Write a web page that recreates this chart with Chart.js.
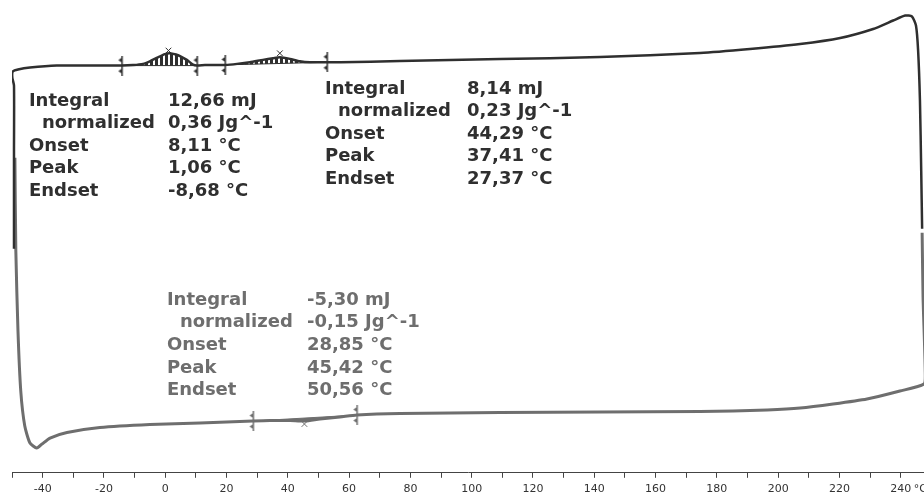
<!DOCTYPE html>
<html lang="en">
<head>
<meta charset="UTF-8">
<title>DSC</title>
<script src="https://cdn.jsdelivr.net/npm/chart.js"></script>
<style>
  html, body { margin: 0; padding: 0; background: #fff; }
  #wrap { position: relative; width: 924px; height: 495px; }
</style>
</head>
<body>
<div id="wrap"><canvas id="dsc"></canvas></div>
<script>
// heating run (dark): temperature in °C, heat flow in arbitrary units
const heatT = [-49.35, -49.35, -49.35, -49.9, -49.76, -48.05, -44.13, -35.38, -21.31,
  -14.17, -10.55, -7.23, -5.02, -2.41, -0.1, 1.51, 3.52, 4.83, 7.04, 9.05, 10.36,
  12.97, 19.5, 23.42, 27.65, 31.87, 35.19, 37.4, 40.71, 43.93, 47.25, 52.78,
  57.3, 76.6, 109.27, 141.84, 174.51, 190.79, 207.18, 220.25, 231.0, 237.54,
  241.46, 243.67, 244.98, 245.68, 246.28, 246.69, 246.99];
const heatY = [22.3, 32.1, 38.6, 39.4, 40.0, 40.2, 40.4, 40.6, 40.6,
  40.6, 40.65, 40.77, 41.03, 41.43, 41.75, 41.83, 41.7, 41.55, 41.17, 40.7, 40.6,
  40.65, 40.67, 40.77, 40.93, 41.17, 41.33, 41.43, 41.27, 41.03, 40.93, 40.93,
  40.93, 41.05, 41.25, 41.45, 41.85, 42.25, 42.75, 43.35, 44.25, 45.1,
  45.6, 45.5, 44.6, 42.1, 37.1, 30.1, 24.3];

// cooling run (grey)
const coolT = [246.99, 247.29, 248.0, 247.6, 239.74, 228.99, 217.93, 207.18, 196.42,
  185.26, 174.51, 141.84, 109.27, 76.6, 62.53, 57.0, 50.47, 45.64, 40.71, 34.18, 28.65,
  11.36, -5.02, -21.31, -32.06, -37.59, -40.21, -41.92, -44.13, -45.83, -47.14, -48.05,
  -48.75, -49.05];
const coolY = [23.9, 17.5, 10.1, 8.8, 8.1, 7.3, 6.8, 6.4, 6.2,
  6.1, 6.05, 6.0, 5.95, 5.85, 5.7, 5.5, 5.3, 5.1, 5.15, 5.15, 5.1,
  4.9, 4.75, 4.45, 3.95, 3.4, 2.8, 2.4, 2.9, 4.6, 8.1, 14.1,
  22.1, 31.4];

// integration limits [start, end] and baseline heights at them
const heatLimitT = [[-14.17, 10.36], [19.5, 52.78]];
const heatLimitY = [[40.6, 40.6], [40.67, 40.93]];
const coolLimitT = [[28.65, 62.53]];
const coolLimitY = [[5.1, 5.7]];

// peak marks
const heatPeakT = [1.06, 37.41];
const heatPeakY = [42.1, 41.83];
const coolPeakT = [45.42];
const coolPeakY = [4.8];

// x axis ticks
const tickValues = [-50, -40, -30, -20, -10, 0, 10, 20, 30, 40, 50, 60, 70, 80, 90,
  100, 110, 120, 130, 140, 150, 160, 170, 180, 190, 200, 210, 220, 230, 240];
const unitLabel = '°C';

// result boxes
const rowNames = ['Integral', 'normalized', 'Onset', 'Peak', 'Endset'];
const heat1Values = ['12,66 mJ', '0,36 Jg^-1', '8,11 °C', '1,06 °C', '-8,68 °C'];
const heat2Values = ['8,14 mJ', '0,23 Jg^-1', '44,29 °C', '37,41 °C', '27,37 °C'];
const coolValues = ['-5,30 mJ', '-0,15 Jg^-1', '28,85 °C', '45,42 °C', '50,56 °C'];
// anchor: [label T, value T, first baseline heat-flow]
const heat1Anchor = [-44.48, 0.88, 36.6];
const heat2Anchor = [52.12, 98.47, 37.8];
const coolAnchor = [0.55, 46.25, 16.7];

const DARK = '#2f2f2f';
const GREY = '#6e6e6e';

function pts(xs, ys) { return xs.map((x, i) => ({ x: x, y: ys[i] })); }

function stripes(color) {
  const c = document.createElement('canvas');
  c.width = 5; c.height = 4;
  const g = c.getContext('2d');
  g.fillStyle = color;
  g.fillRect(0, 0, 3, 4);
  return g.createPattern(c, 'repeat');
}

function limitGlyph(color) {
  const c = document.createElement('canvas');
  c.width = 9; c.height = 20;
  const g = c.getContext('2d');
  g.fillStyle = color;
  g.fillRect(4, 0, 1.5, 20);
  g.beginPath(); g.moveTo(4.5, 2); g.lineTo(1, 4.5); g.lineTo(4.5, 7); g.fill();
  g.beginPath(); g.moveTo(4.5, 13); g.lineTo(1, 15.5); g.lineTo(4.5, 18); g.fill();
  return c;
}

function sliceCurve(xs, ys, a, b) {
  const out = [];
  xs.forEach((x, i) => { if (x >= a && x <= b) out.push({ x: x, y: ys[i] }); });
  out.sort((p, q) => p.x - q.x);
  return out;
}

const datasets = [];
function addPeakArea(xs, ys, lim, limY, color, fillStyle) {
  datasets.push({
    data: [{ x: lim[0], y: limY[0] }, { x: lim[1], y: limY[1] }],
    showLine: true, borderColor: color, borderWidth: 1, pointRadius: 0
  });
  datasets.push({
    data: sliceCurve(xs, ys, lim[0], lim[1]),
    showLine: true, borderWidth: 0, pointRadius: 0, tension: 0.3,
    fill: '-1', backgroundColor: fillStyle
  });
}
heatLimitT.forEach((lim, i) => addPeakArea(heatT, heatY, lim, heatLimitY[i], DARK, stripes(DARK)));
coolLimitT.forEach((lim, i) => addPeakArea(coolT, coolY, lim, coolLimitY[i], GREY, GREY));

datasets.push({
  data: pts(heatT, heatY), showLine: true, borderColor: DARK, borderWidth: 2.5,
  pointRadius: 0, tension: 0.2
});
datasets.push({
  data: pts(coolT, coolY), showLine: true, borderColor: GREY, borderWidth: 3,
  pointRadius: 0, tension: 0.2
});
datasets.push({
  data: heatLimitT.flatMap((l, i) => [{ x: l[0], y: heatLimitY[i][0] }, { x: l[1], y: heatLimitY[i][1] }]),
  pointStyle: limitGlyph(DARK), pointRadius: 5
});
datasets.push({
  data: coolLimitT.flatMap((l, i) => [{ x: l[0], y: coolLimitY[i][0] }, { x: l[1], y: coolLimitY[i][1] }]),
  pointStyle: limitGlyph(GREY), pointRadius: 5
});
datasets.push({
  data: pts(heatPeakT, heatPeakY), pointStyle: 'crossRot', pointRadius: 4,
  borderColor: DARK, borderWidth: 1
});
datasets.push({
  data: pts(coolPeakT, coolPeakY), pointStyle: 'crossRot', pointRadius: 4,
  borderColor: GREY, borderWidth: 1
});

const resultText = {
  id: 'resultText',
  afterDatasetsDraw(chart) {
    const ctx = chart.ctx;
    const xs = chart.scales.x, ys = chart.scales.y;
    function block(anchor, values, color) {
      const lx = xs.getPixelForValue(anchor[0]);
      const vx = xs.getPixelForValue(anchor[1]);
      const y0 = ys.getPixelForValue(anchor[2]);
      ctx.save();
      ctx.font = 'bold 18px "DejaVu Sans"';
      ctx.fillStyle = color;
      ctx.textBaseline = 'alphabetic';
      rowNames.forEach((name, i) => {
        const y = y0 + i * 22.6;
        ctx.fillText(name, lx + (i === 1 ? 13 : 0), y);
        ctx.fillText(values[i], vx, y);
      });
      ctx.restore();
    }
    block(heat1Anchor, heat1Values, DARK);
    block(heat2Anchor, heat2Values, DARK);
    block(coolAnchor, coolValues, GREY);

    // unit after the last axis label
    ctx.save();
    ctx.font = '11px "DejaVu Sans"';
    ctx.fillStyle = '#333';
    ctx.textBaseline = 'middle';
    ctx.fillText(unitLabel, xs.getPixelForValue(240) + 13, xs.top + 16.6);
    ctx.restore();
  }
};

new Chart(document.getElementById('dsc'), {
  type: 'scatter',
  data: { datasets: datasets },
  options: {
    responsive: true,
    maintainAspectRatio: false,
    animation: false,
    layout: { autoPadding: false, padding: { left: 12, right: 0, top: 0, bottom: -6 } },
    plugins: { legend: { display: false }, tooltip: { enabled: false } },
    scales: {
      x: {
        type: 'linear', min: -50, max: 247.6,
        afterBuildTicks: axis => { axis.ticks = tickValues.map(v => ({ value: v })); },
        grid: { drawOnChartArea: false, drawTicks: true, tickLength: 5, color: '#444' },
        border: { display: true, color: '#444' },
        ticks: {
          autoSkip: false, maxRotation: 0, padding: 5, color: '#333',
          font: { family: 'DejaVu Sans', size: 11 },
          callback: v => (v % 20 === 0 ? String(v) : '')
        }
      },
      y: { display: false, min: -0.07, max: 47.15 }
    }
  },
  plugins: [resultText]
});
</script>
</body>
</html>
